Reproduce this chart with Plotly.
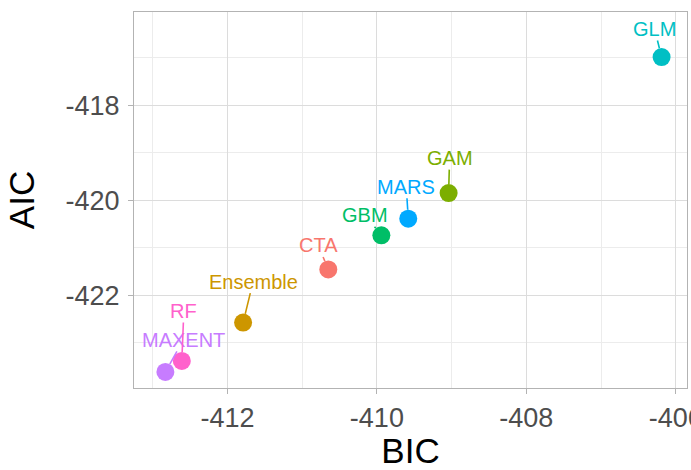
import plotly.graph_objects as go

models = ["CTA", "Ensemble", "GAM", "GBM", "GLM", "MARS", "MAXENT", "RF"]
bic = [-410.65, -411.79, -409.04, -409.94, -406.19, -409.58, -412.83, -412.61]
aic = [-421.46, -422.58, -419.85, -420.74, -416.98, -420.39, -423.62, -423.39]
colors = ["#F8766D", "#CD9600", "#7CAE00", "#00BE67", "#00BFC4", "#00A9FF", "#C77CFF", "#FF61CC"]
# label offsets in pixels (repelled label positions)
label_dx = [-10, 10, 1, -16, -7, -2, 18, 2]
label_dy = [-24, -41, -35, -20, -28, -32, -32, -50]

FONT = "Liberation Sans, Arial, sans-serif"

fig = go.Figure()
fig.add_trace(go.Scatter(
    x=bic, y=aic, mode="markers",
    marker=dict(size=18, color=colors, line=dict(width=0)),
    showlegend=False, hoverinfo="text", text=models,
))

for m, xv, yv, c, dx, dy in zip(models, bic, aic, colors, label_dx, label_dy):
    fig.add_annotation(
        x=xv, y=yv, text=m, showarrow=True, arrowhead=0, arrowwidth=1.6,
        arrowcolor=c, ax=dx, ay=dy, standoff=9, borderpad=0,
        font=dict(family=FONT, size=20, color=c),
    )

axis_common = dict(
    showline=True, mirror=True, linecolor="#B3B3B3", linewidth=1.3,
    gridcolor="#DCDCDC", gridwidth=1.1,
    ticks="outside", ticklen=5, tickcolor="#B3B3B3", tickwidth=1.2,
    tickfont=dict(family=FONT, size=27, color="#4D4D4D"),
    zeroline=False, ticklabeloverflow="allow",
    minor=dict(showgrid=True, gridcolor="#ECECEC", gridwidth=0.8, ticks=""),
)

fig.update_layout(
    width=691, height=470,
    margin=dict(l=134, r=4, t=12, b=82),
    plot_bgcolor="white", paper_bgcolor="white",
    font=dict(family=FONT),
    xaxis=dict(
        range=[-413.25, -405.85], tickvals=[-412, -410, -408, -406],
        ticktext=["-412", "-410", "-408", "-406"],
        title=dict(text="BIC", font=dict(family=FONT, size=35, color="black"), standoff=18),
        **axis_common,
    ),
    yaxis=dict(
        range=[-423.96, -416.03], tickvals=[-422, -420, -418],
        ticktext=["-422", "-420", "-418"],
        title=dict(text="AIC", font=dict(family=FONT, size=35, color="black"), standoff=20),
        ticklabelstandoff=3,
        **axis_common,
    ),
)
fig.update_xaxes(minor=dict(tickvals=[-413, -411, -409, -407]), automargin=False)
fig.update_yaxes(minor=dict(tickvals=[-423, -421, -419, -417]), automargin=False)

fig.write_html(
    "out.html",
    config={"displayModeBar": False},
    post_script="document.body.style.margin='0';document.body.style.overflow='hidden';",
)
